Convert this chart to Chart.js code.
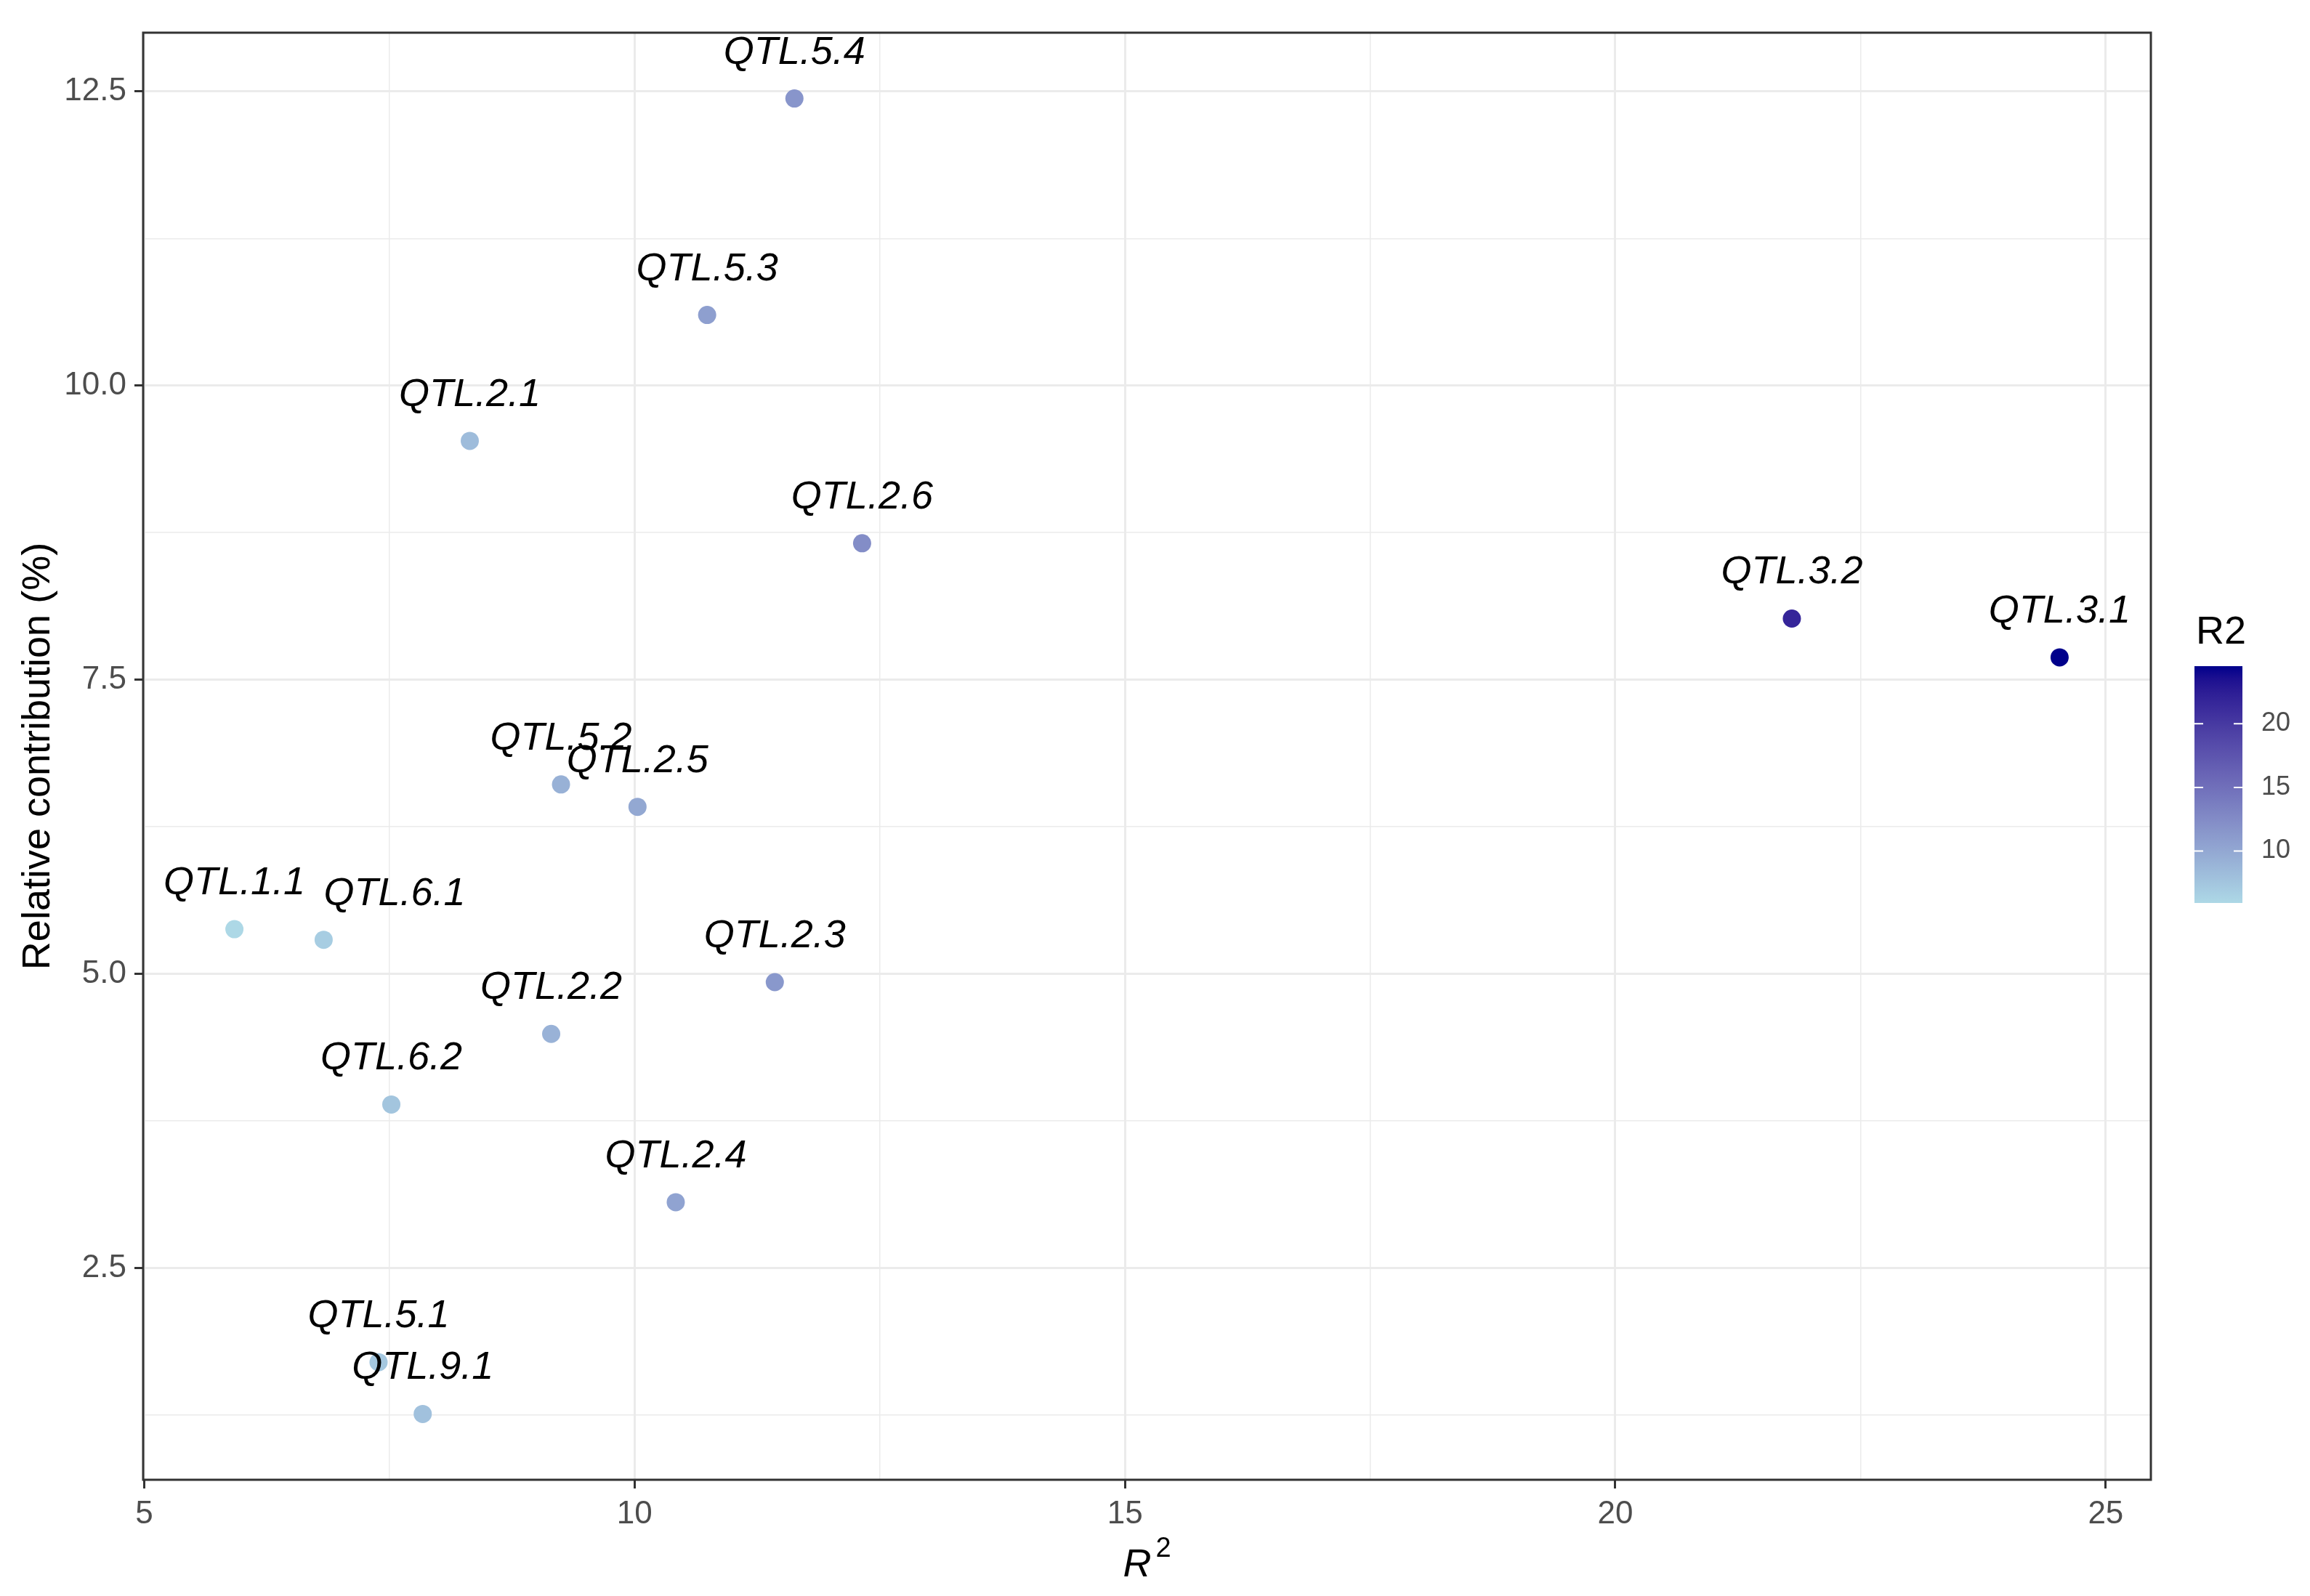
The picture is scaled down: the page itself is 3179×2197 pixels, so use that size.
<!DOCTYPE html>
<html>
<head>
<meta charset="utf-8">
<title>QTL relative contribution vs R2</title>
<script src="https://cdn.jsdelivr.net/npm/chart.js@4.4.1/dist/chart.umd.min.js"></script>
<style>
  html, body { margin: 0; padding: 0; background: #fff; }
  canvas { display: block; }
</style>
</head>
<body>
<canvas id="qtlChart" width="3179" height="2197"></canvas>
<script>
// QTL data
const qtlNames = ['QTL.1.1', 'QTL.2.1', 'QTL.2.2', 'QTL.2.3', 'QTL.2.4', 'QTL.2.5', 'QTL.2.6', 'QTL.3.1',
                  'QTL.3.2', 'QTL.5.1', 'QTL.5.2', 'QTL.5.3', 'QTL.5.4', 'QTL.6.1', 'QTL.6.2', 'QTL.9.1'];
const r2Values = [5.92, 8.32, 9.15, 11.43, 10.42, 10.03, 12.32, 24.53,
                  21.80, 7.39, 9.25, 10.74, 11.63, 6.83, 7.52, 7.84];
const contribValues = [5.38, 9.53, 4.49, 4.93, 3.06, 6.42, 8.66, 7.69,
                       8.02, 1.70, 6.61, 10.60, 12.44, 5.29, 3.89, 1.26];

// axis ticks (major labelled, minor only gridlines)
const xMajorTicks = [5, 10, 15, 20, 25];
const xMinorTicks = [7.5, 12.5, 17.5, 22.5];
const yMajorTicks = [2.5, 5, 7.5, 10, 12.5];
const yMinorTicks = [1.25, 3.75, 6.25, 8.75, 11.25];
const legendTicks = [10, 15, 20];

const FONT = "'Liberation Sans', Arial, sans-serif";

// labels that are left-justified instead of centred (hjust = 0)
const leftJustified = ['QTL.6.1'];

// ggplot-like 5% expansion of the data range
function expandRange(vals) {
    const lo = Math.min(...vals), hi = Math.max(...vals);
    const pad = (hi - lo) * 0.05;
    return [lo - pad, hi + pad];
}
const [xMin, xMax] = expandRange(r2Values);
const [yMin, yMax] = expandRange(contribValues);
const r2Lo = Math.min(...r2Values);
const r2Hi = Math.max(...r2Values);

// colour gradient lightblue -> darkblue, interpolated in Lab like scale_colour_gradient
function srgbToLin(c) { c /= 255; return c <= 0.04045 ? c / 12.92 : Math.pow((c + 0.055) / 1.055, 2.4); }
function linToSrgb(c) { c = c <= 0.0031308 ? 12.92 * c : 1.055 * Math.pow(c, 1 / 2.4) - 0.055; return Math.round(Math.min(1, Math.max(0, c)) * 255); }
function rgbToLab(r, g, b) {
    r = srgbToLin(r); g = srgbToLin(g); b = srgbToLin(b);
    let x = (r * 0.4124 + g * 0.3576 + b * 0.1805) / 0.95047;
    let y = (r * 0.2126 + g * 0.7152 + b * 0.0722);
    let z = (r * 0.0193 + g * 0.1192 + b * 0.9505) / 1.08883;
    const f = t => t > 0.008856 ? Math.cbrt(t) : 7.787 * t + 16 / 116;
    x = f(x); y = f(y); z = f(z);
    return [116 * y - 16, 500 * (x - y), 200 * (y - z)];
}
function labToRgb(L, a, b) {
    let y = (L + 16) / 116, x = a / 500 + y, z = y - b / 200;
    const fi = t => t * t * t > 0.008856 ? t * t * t : (t - 16 / 116) / 7.787;
    x = fi(x) * 0.95047; y = fi(y); z = fi(z) * 1.08883;
    const r = x * 3.2406 + y * -1.5372 + z * -0.4986;
    const g = x * -0.9689 + y * 1.8758 + z * 0.0415;
    const bb = x * 0.0557 + y * -0.2040 + z * 1.0570;
    return [linToSrgb(r), linToSrgb(g), linToSrgb(bb)];
}
const labLow = rgbToLab(173, 216, 230);   // lightblue
const labHigh = rgbToLab(0, 0, 139);      // darkblue
function r2Colour(v) {
    const t = Math.min(1, Math.max(0, (v - r2Lo) / (r2Hi - r2Lo)));
    const lab = labLow.map((c, i) => c + (labHigh[i] - c) * t);
    const [r, g, b] = labToRgb(lab[0], lab[1], lab[2]);
    return `rgb(${r}, ${g}, ${b})`;
}

// point labels above each point
const pointLabels = {
    id: 'pointLabels',
    afterDatasetsDraw(chart) {
        const ctx = chart.ctx;
        const meta = chart.getDatasetMeta(0);
        ctx.save();
        ctx.font = `italic 54px ${FONT}`;
        ctx.fillStyle = '#000';
        ctx.textBaseline = 'alphabetic';
        meta.data.forEach((el, i) => {
            ctx.textAlign = leftJustified.includes(qtlNames[i]) ? 'left' : 'center';
            ctx.fillText(qtlNames[i], el.x, el.y - 48);
        });
        ctx.restore();
    }
};

// panel border, x axis title (R with superscript 2) and colour bar legend
const panelAndLegend = {
    id: 'panelAndLegend',
    afterDraw(chart) {
        const ctx = chart.ctx;
        const a = chart.chartArea;
        ctx.save();
        ctx.strokeStyle = '#333333';
        ctx.lineWidth = 3;
        ctx.strokeRect(a.left, a.top, a.right - a.left, a.bottom - a.top);

        // x axis title
        ctx.fillStyle = '#000';
        ctx.textBaseline = 'alphabetic';
        ctx.textAlign = 'left';
        ctx.font = `italic 54px ${FONT}`;
        const rW = ctx.measureText('R').width;
        ctx.font = `38px ${FONT}`;
        const supW = ctx.measureText('2').width;
        const tx = (a.left + a.right) / 2 - (rW + 6 + supW) / 2;
        ctx.font = `italic 54px ${FONT}`;
        ctx.fillText('R', tx, 2170);
        ctx.font = `38px ${FONT}`;
        ctx.fillText('2', tx + rW + 6, 2143);

        // colour bar
        const barLeft = a.right + 60, barW = 66;
        const barTop = 917, barH = 326;
        const valToY = v => barTop + barH - (v - r2Lo) / (r2Hi - r2Lo) * barH;
        const grad = ctx.createLinearGradient(0, barTop + barH, 0, barTop);
        for (let i = 0; i <= 20; i++) {
            grad.addColorStop(i / 20, r2Colour(r2Lo + (r2Hi - r2Lo) * i / 20));
        }
        ctx.fillStyle = grad;
        ctx.fillRect(barLeft, barTop, barW, barH);

        ctx.strokeStyle = '#ffffff';
        ctx.lineWidth = 2;
        ctx.fillStyle = '#4D4D4D';
        ctx.font = `36px ${FONT}`;
        ctx.textAlign = 'left';
        ctx.textBaseline = 'middle';
        legendTicks.forEach(v => {
            const y = valToY(v);
            ctx.beginPath();
            ctx.moveTo(barLeft, y); ctx.lineTo(barLeft + 12, y);
            ctx.moveTo(barLeft + barW - 12, y); ctx.lineTo(barLeft + barW, y);
            ctx.stroke();
            ctx.fillText(String(v), barLeft + barW + 26, y);
        });

        ctx.fillStyle = '#000';
        ctx.font = `54px ${FONT}`;
        ctx.textBaseline = 'alphabetic';
        ctx.fillText('R2', barLeft + 2, 886);
        ctx.restore();
    }
};

const isIn = (arr, v) => arr.some(t => Math.abs(t - v) < 1e-6);

const ctx = document.getElementById('qtlChart').getContext('2d');
const qtlChart = new Chart(ctx, {
    type: 'scatter',
    data: {
        datasets: [{
            label: 'QTL',
            data: r2Values.map((x, i) => ({ x: x, y: contribValues[i] })),
            backgroundColor: r2Values.map(v => r2Colour(v)),
            pointRadius: 12.5,
            pointHoverRadius: 12.5,
            pointBorderWidth: 0
        }]
    },
    options: {
        responsive: false,
        animation: false,
        events: [],
        layout: {
            padding: { left: 0, top: 45, right: 219, bottom: 0 }
        },
        plugins: {
            legend: { display: false },
            tooltip: { enabled: false }
        },
        scales: {
            x: {
                type: 'linear',
                min: xMin,
                max: xMax,
                afterBuildTicks: scale => {
                    scale.ticks = [...xMajorTicks, ...xMinorTicks].sort((p, q) => p - q).map(v => ({ value: v }));
                },
                afterFit: scale => { scale.height = 160; },
                border: { display: false },
                grid: {
                    color: '#EBEBEB',
                    lineWidth: c => isIn(xMajorTicks, c.tick.value) ? 3 : 1.5,
                    tickColor: c => isIn(xMajorTicks, c.tick.value) ? '#333333' : 'rgba(0,0,0,0)',
                    tickWidth: 3,
                    tickLength: 12
                },
                ticks: {
                    autoSkip: false,
                    maxRotation: 0,
                    padding: 9,
                    color: '#4D4D4D',
                    font: { family: FONT, size: 44 },
                    callback: v => isIn(xMajorTicks, v) ? String(v) : ''
                },
                title: { display: false }
            },
            y: {
                type: 'linear',
                min: yMin,
                max: yMax,
                afterBuildTicks: scale => {
                    scale.ticks = [...yMajorTicks, ...yMinorTicks].sort((p, q) => p - q).map(v => ({ value: v }));
                },
                afterFit: scale => { scale.width = 197; },
                border: { display: false },
                grid: {
                    color: '#EBEBEB',
                    lineWidth: c => isIn(yMajorTicks, c.tick.value) ? 3 : 1.5,
                    tickColor: c => isIn(yMajorTicks, c.tick.value) ? '#333333' : 'rgba(0,0,0,0)',
                    tickWidth: 3,
                    tickLength: 12
                },
                ticks: {
                    autoSkip: false,
                    padding: 11,
                    color: '#4D4D4D',
                    font: { family: FONT, size: 44 },
                    callback: v => isIn(yMajorTicks, v) ? Number(v).toFixed(1) : ''
                },
                title: {
                    display: true,
                    text: 'Relative contribution (%)',
                    color: '#000',
                    font: { family: FONT, size: 54 },
                    padding: { top: 21, bottom: 0 }
                }
            }
        }
    },
    plugins: [pointLabels, panelAndLegend]
});
</script>
</body>
</html>
